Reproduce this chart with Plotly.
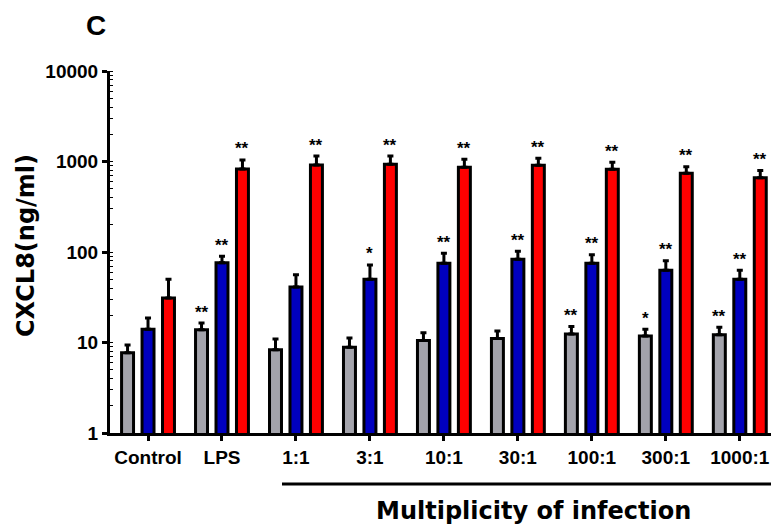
import math
import plotly.graph_objects as go

categories = ["Control", "LPS", "1:1", "3:1", "10:1", "30:1", "100:1", "300:1", "1000:1"]

gray_vals = [7.7, 13.8, 8.3, 8.85, 10.5, 11.1, 12.4, 11.8, 12.2]
gray_err = [1.7, 2.6, 2.6, 2.35, 2.3, 2.3, 2.6, 2.2, 2.5]
blue_vals = [14.0, 76, 41, 50, 75, 83, 75, 63, 50]
blue_err = [4.6, 14, 15, 22, 22, 19, 18, 17, 13]
red_vals = [31, 826, 915, 930, 863, 908, 820, 740, 660]
red_err = [19, 214, 235, 220, 194, 177, 160, 137, 133]

gray_stars = ["", "**", "", "", "", "", "**", "*", "**"]
blue_stars = ["", "**", "", "*", "**", "**", "**", "**", "**"]
red_stars = ["", "**", "**", "**", "**", "**", "**", "**", "**"]

y_tickvals = [1, 10, 100, 1000, 10000]
y_ticktext = ["1", "10", "100", "1000", "10000"]

# page body has an 8px default margin, so the figure is drawn 8px in from the corner
OFF = 8
W, H = 779 - OFF, 526 - OFF
ML, MR, MT, MB = 110 - OFF, 0, 71 - OFF, 93
BARGAP = 0.17
BARGROUPGAP = 0.415

series = [
    (gray_vals, gray_err, "#a3a3ab", gray_stars),
    (blue_vals, blue_err, "#0000bf", blue_stars),
    (red_vals, red_err, "#ff0000", red_stars),
]

fig = go.Figure()
for vals, err, col, _ in series:
    fig.add_trace(go.Bar(
        x=categories, y=vals,
        marker=dict(color=col, line=dict(color="black", width=3)),
        error_y=dict(type="data", array=err, symmetric=False, arrayminus=[0] * len(err),
                     color="black", thickness=3, width=3),
        showlegend=False,
    ))

slot = (1 - BARGAP) / 3
annotations = []
for si, (vals, err, col, stars) in enumerate(series):
    for ci, s in enumerate(stars):
        if not s:
            continue
        annotations.append(dict(
            x=ci + (si - 1) * slot, y=math.log10(vals[ci] + err[ci]),
            xref="x", yref="y", text=s, showarrow=False,
            yanchor="middle", yshift=11,
            font=dict(family="Liberation Sans", size=17, color="black", weight="bold"),
        ))

plot_h = H - MT - MB
plot_w = W - ML - MR


def px(xr):
    return (xr - OFF - ML) / plot_w


def py(yr):
    return (H - MB - (yr - OFF)) / plot_h


annotations.append(dict(
    x=px(96), y=py(26), xref="paper", yref="paper",
    text="<b>C</b>", showarrow=False, xanchor="center", yanchor="middle",
    font=dict(family="Liberation Sans", size=28, color="black"),
))
annotations.append(dict(
    x=px(26), y=py(246), xref="paper", yref="paper",
    text="<b>CXCL8(ng/ml)</b>", textangle=-90, showarrow=False,
    xanchor="center", yanchor="middle",
    font=dict(family="DejaVu Sans", size=24, color="black"),
))
annotations.append(dict(
    x=px(533), y=py(511), xref="paper", yref="paper",
    text="<b>Multiplicity of infection</b>", showarrow=False,
    xanchor="center", yanchor="middle",
    font=dict(family="DejaVu Sans", size=24, color="black"),
))

fig.add_shape(type="line", xref="paper", yref="paper",
              x0=px(282), x1=1.0, y0=py(484), y1=py(484),
              line=dict(color="black", width=3))

fig.update_layout(
    width=W, height=H,
    margin=dict(l=ML, r=MR, t=MT, b=MB, pad=0),
    paper_bgcolor="white", plot_bgcolor="white",
    barmode="group", bargap=BARGAP, bargroupgap=BARGROUPGAP,
    annotations=annotations,
    font=dict(family="Liberation Sans", color="black"),
)
fig.update_xaxes(
    type="category", range=[-0.514, 8.53],
    showline=True, linecolor="black", linewidth=3,
    ticks="outside", ticklen=5, tickwidth=3, tickcolor="black",
    tickfont=dict(family="Liberation Sans", size=19, color="black", weight="bold"),
    showgrid=False, zeroline=False,
)
fig.update_yaxes(
    type="log", range=[0, 4],
    tickvals=y_tickvals, ticktext=y_ticktext,
    showline=True, linecolor="black", linewidth=3,
    ticks="outside", ticklen=5, tickwidth=3, tickcolor="black",
    tickfont=dict(family="Liberation Sans", size=19, color="black", weight="bold"),
    minor=dict(ticks="inside", ticklen=3, tickwidth=1, tickcolor="black", dtick="D1", showgrid=False),
    showgrid=False, zeroline=False,
)

fig.write_html("out.html")
